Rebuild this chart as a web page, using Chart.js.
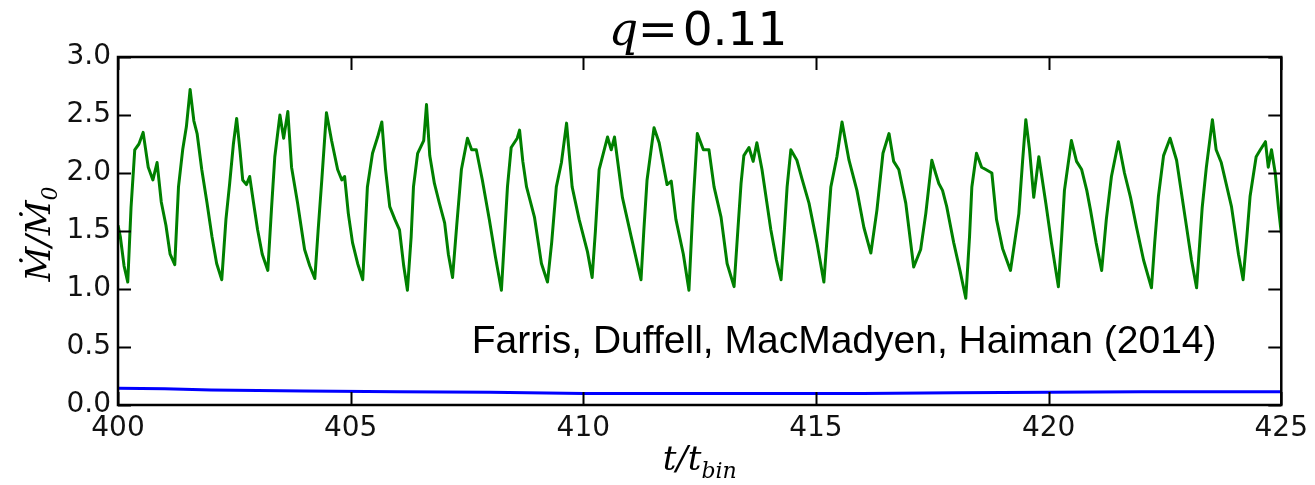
<!DOCTYPE html>
<html>
<head>
<meta charset="utf-8">
<script src="https://cdn.jsdelivr.net/npm/chart.js@4.4.1/dist/chart.umd.min.js"></script>
<style>
  html, body { margin: 0; padding: 0; background: #fff; }
</style>
</head>
<body>
<canvas id="chart" width="1315" height="485"></canvas>
<script>
// accretion rate onto the secondary (green) and primary (blue), q = 0.11
const timeGreen = [
  400.00, 400.05, 400.13, 400.21, 400.28, 400.36, 400.45, 400.54, 400.65, 400.75, 400.84, 400.93, 401.03, 401.12, 401.22,
  401.30, 401.39, 401.47, 401.55, 401.63, 401.70, 401.80, 401.91, 402.02, 402.12, 402.23,
  402.32, 402.40, 402.48, 402.55, 402.62, 402.68, 402.76, 402.83, 402.91, 403.00, 403.10, 403.22,
  403.30, 403.37, 403.48, 403.56, 403.65, 403.73, 403.86, 404.01, 404.12, 404.23,
  404.30, 404.38, 404.48, 404.59, 404.72, 404.81, 404.87, 404.95, 405.04, 405.15, 405.26,
  405.36, 405.47, 405.58, 405.67, 405.75, 405.84, 405.95, 406.05, 406.14, 406.22,
  406.30, 406.35, 406.44, 406.57, 406.63, 406.70, 406.80, 406.90, 407.02, 407.10, 407.19,
  407.28, 407.38, 407.51, 407.60, 407.70, 407.83, 407.98, 408.11, 408.24,
  408.30, 408.37, 408.45, 408.58, 408.63, 408.70, 408.78, 408.95, 409.10, 409.23,
  409.32, 409.42, 409.53, 409.64, 409.76, 409.91, 410.09, 410.19,
  410.26, 410.34, 410.52, 410.60, 410.67, 410.84, 411.03, 411.24,
  411.30, 411.37, 411.52, 411.63, 411.80, 411.89, 411.99, 412.15, 412.27,
  412.36, 412.45, 412.58, 412.70, 412.81, 412.96, 413.09, 413.24,
  413.32, 413.39, 413.45, 413.56, 413.65, 413.73, 413.84, 414.03, 414.15, 414.25,
  414.32, 414.38, 414.46, 414.59, 414.70, 414.85, 415.02, 415.17,
  415.25, 415.32, 415.45, 415.56, 415.71, 415.88, 416.03, 416.18,
  416.31, 416.44, 416.57, 416.67, 416.78, 416.93, 417.10,
  417.25, 417.36, 417.49, 417.57, 417.64, 417.72, 417.81, 417.96, 418.10, 418.22,
  418.30, 418.35, 418.45, 418.56, 418.65, 418.78, 418.88, 419.01, 419.18,
  419.36, 419.44, 419.51, 419.59, 419.68, 419.79, 419.94, 420.06, 420.21,
  420.28, 420.34, 420.49, 420.60, 420.71, 420.82, 420.90, 421.02, 421.14,
  421.24, 421.35, 421.50, 421.63, 421.76, 421.89, 422.04, 422.21,
  422.28, 422.36, 422.47, 422.61, 422.75, 422.94, 423.07, 423.18,
  423.30, 423.39, 423.52, 423.60, 423.71, 423.93, 424.08, 424.18,
  424.26, 424.33, 424.46, 424.55, 424.66, 424.72, 424.79, 424.87, 424.94, 425.00,
];
const mdotGreen = [
  1.55, 1.45, 1.20, 1.06, 1.70, 2.20, 2.25, 2.35, 2.05, 1.94, 2.09, 1.75, 1.55, 1.30, 1.21,
  1.88, 2.20, 2.40, 2.72, 2.45, 2.34, 2.03, 1.75, 1.45, 1.22, 1.08,
  1.60, 1.91, 2.25, 2.47, 2.20, 1.94, 1.90, 1.97, 1.75, 1.51, 1.30, 1.16,
  1.70, 2.14, 2.50, 2.30, 2.53, 2.05, 1.74, 1.34, 1.20, 1.09,
  1.50, 1.94, 2.52, 2.28, 2.03, 1.94, 1.97, 1.65, 1.40, 1.22, 1.08,
  1.88, 2.17, 2.31, 2.44, 2.03, 1.71, 1.60, 1.51, 1.20, 0.99,
  1.45, 1.88, 2.17, 2.28, 2.59, 2.15, 1.91, 1.75, 1.57, 1.30, 1.10,
  1.55, 2.03, 2.30, 2.20, 2.20, 1.94, 1.60, 1.28, 0.99,
  1.40, 1.88, 2.22, 2.30, 2.37, 2.10, 1.88, 1.62, 1.22, 1.06,
  1.40, 1.88, 2.09, 2.43, 1.88, 1.60, 1.32, 1.10,
  1.50, 2.03, 2.31, 2.20, 2.31, 1.79, 1.45, 1.08,
  1.50, 1.94, 2.39, 2.26, 1.90, 1.93, 1.60, 1.30, 0.99,
  1.74, 2.34, 2.20, 2.20, 1.88, 1.62, 1.22, 1.02,
  1.50, 1.91, 2.15, 2.22, 2.10, 2.26, 2.03, 1.51, 1.25, 1.08,
  1.50, 1.88, 2.20, 2.11, 1.95, 1.74, 1.40, 1.06,
  1.50, 1.88, 2.14, 2.44, 2.11, 1.85, 1.53, 1.31,
  1.68, 2.17, 2.34, 2.10, 2.03, 1.74, 1.19,
  1.34, 1.65, 2.11, 2.00, 1.91, 1.85, 1.71, 1.40, 1.15, 0.92,
  1.45, 1.88, 2.17, 2.05, 2.03, 2.00, 1.60, 1.35, 1.16,
  1.65, 2.10, 2.46, 2.20, 1.79, 2.14, 1.74, 1.40, 1.02,
  1.45, 1.85, 2.28, 2.10, 2.03, 1.85, 1.68, 1.40, 1.16,
  1.60, 1.97, 2.27, 2.00, 1.79, 1.53, 1.25, 1.01,
  1.40, 1.80, 2.15, 2.30, 2.11, 1.60, 1.25, 1.01,
  1.70, 2.05, 2.46, 2.20, 2.09, 1.71, 1.30, 1.08,
  1.45, 1.80, 2.14, 2.20, 2.27, 2.05, 2.20, 2.00, 1.70, 1.48,
];

const timeBlue = [400, 401, 402, 403, 404, 406, 408, 410, 412, 414, 416, 418, 420, 422, 424, 425];
const mdotBlue = [0.145, 0.14, 0.13, 0.125, 0.12, 0.115, 0.11, 0.10, 0.10, 0.10, 0.10, 0.105, 0.11, 0.115, 0.115, 0.115];

const xTicks = [400, 405, 410, 415, 420, 425];
const yTicks = [0.0, 0.5, 1.0, 1.5, 2.0, 2.5, 3.0];

const TITLE_Q = "q";
const TITLE_VALUE = "0.11";
const CREDIT = "Farris, Duffell, MacMadyen, Haiman (2014)";

const TICK_LEN = 13;
const TICK_FONT = { family: "DejaVu Sans", size: 28 };

function zipPoints(xs, ys) {
  return xs.map((x, i) => ({ x, y: ys[i] }));
}

const frame = {
  id: "frame",
  afterDraw(chart) {
    const { ctx, chartArea: a } = chart;
    const xs = chart.scales.x;
    const ys = chart.scales.y;
    ctx.save();
    ctx.strokeStyle = "#000";
    ctx.lineWidth = 2.5;
    ctx.strokeRect(a.left, a.top, a.right - a.left, a.bottom - a.top);

    // inward ticks on all four sides, like matplotlib
    ctx.lineWidth = 2;
    ctx.beginPath();
    for (const v of xTicks) {
      const px = Math.round(xs.getPixelForValue(v)) + 0.5;
      ctx.moveTo(px, a.bottom); ctx.lineTo(px, a.bottom - TICK_LEN);
      ctx.moveTo(px, a.top); ctx.lineTo(px, a.top + TICK_LEN);
    }
    for (const v of yTicks) {
      const py = Math.round(ys.getPixelForValue(v)) + 0.5;
      ctx.moveTo(a.left, py); ctx.lineTo(a.left + TICK_LEN, py);
      ctx.moveTo(a.right, py); ctx.lineTo(a.right - TICK_LEN, py);
    }
    ctx.stroke();

    ctx.fillStyle = "#000";
    ctx.textBaseline = "alphabetic";
    ctx.textAlign = "left";

    // title: q = 0.11
    const cx = (a.left + a.right) / 2;
    ctx.font = "italic 46px 'DejaVu Serif'";
    ctx.fillText(TITLE_Q, cx - 91, 45);
    ctx.font = "48px 'DejaVu Serif'";
    ctx.fillText("=", cx - 62, 46);
    ctx.font = "47px 'DejaVu Sans'";
    ctx.fillText(TITLE_VALUE, cx - 17, 45);

    // x axis label: t / t_bin
    ctx.font = "italic 34px 'DejaVu Serif'";
    let x0 = cx - 37;
    ctx.fillText("t/t", x0, 470);
    x0 += ctx.measureText("t/t").width;
    ctx.font = "italic 22px 'DejaVu Serif'";
    ctx.fillText("bin", x0, 478);

    // y axis label: Mdot / Mdot_0
    ctx.save();
    ctx.translate(50, (a.top + a.bottom) / 2 + 4);
    ctx.rotate(-Math.PI / 2);
    ctx.font = "italic 34px 'DejaVu Serif'";
    const main = "\u1E40/\u1E40";
    const w = ctx.measureText(main).width;
    ctx.fillText(main, -w / 2 - 6, 0);
    ctx.font = "italic 22px 'DejaVu Serif'";
    ctx.fillText("0", w / 2 - 6, 7);
    ctx.restore();

    // credit line, anchored in data coordinates
    ctx.font = "39px 'Liberation Sans'";
    ctx.fillText(CREDIT, xs.getPixelForValue(407.6), ys.getPixelForValue(0.45));
    ctx.restore();
  },
};

new Chart(document.getElementById("chart"), {
  type: "line",
  data: {
    datasets: [
      {
        label: "secondary",
        data: zipPoints(timeGreen, mdotGreen),
        borderColor: "#008000",
        borderWidth: 3,
        borderJoinStyle: "round",
        pointRadius: 0,
        tension: 0,
      },
      {
        label: "primary",
        data: zipPoints(timeBlue, mdotBlue),
        borderColor: "#0000ff",
        borderWidth: 3,
        pointRadius: 0,
        tension: 0,
      },
    ],
  },
  options: {
    responsive: false,
    animation: false,
    layout: { padding: { top: 57, right: 32, left: 0, bottom: 0 } },
    plugins: { legend: { display: false }, tooltip: { enabled: false } },
    scales: {
      x: {
        type: "linear",
        min: 400,
        max: 425,
        grid: { display: false, drawTicks: false },
        border: { display: false },
        ticks: { stepSize: 5, padding: 7, color: "#111", font: TICK_FONT, maxRotation: 0 },
        afterFit: (s) => { s.height = 80; },
      },
      y: {
        min: 0,
        max: 3,
        grid: { display: false, drawTicks: false },
        border: { display: false },
        ticks: { stepSize: 0.5, padding: 7, color: "#111", font: TICK_FONT, callback: (v) => v.toFixed(1) },
        afterFit: (s) => { s.width = 118; },
      },
    },
  },
  plugins: [frame],
});
</script>
</body>
</html>
